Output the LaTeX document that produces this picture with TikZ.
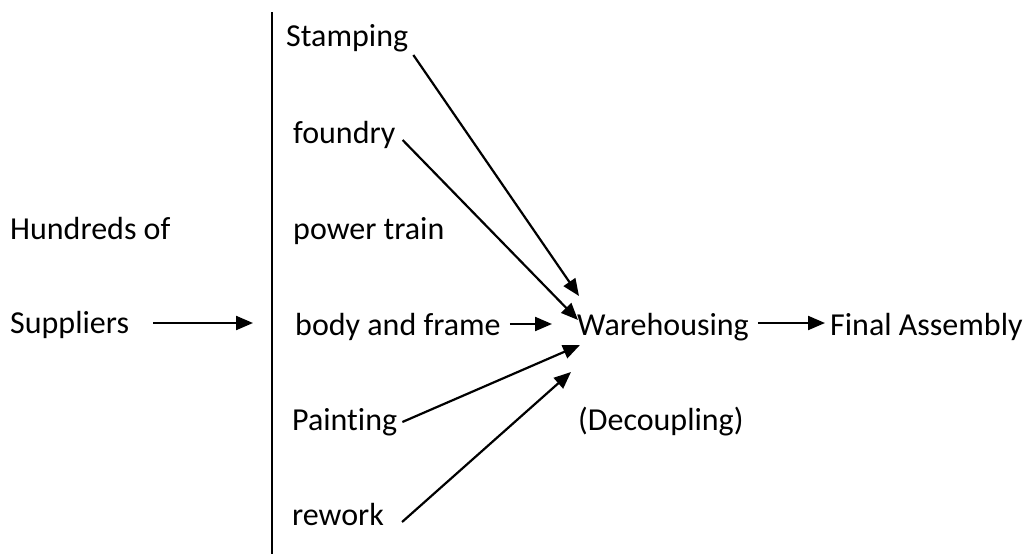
\documentclass[tikz,border=0pt]{standalone}
\usepackage{fontspec}
\setmainfont{Carlito}[Ligatures=NoCommon]
\usetikzlibrary{arrows.meta}
\begin{document}
\begin{tikzpicture}[x=1pt,y=-1pt,
  lbl/.style={anchor=base west,inner sep=0pt,text height=22pt,text depth=7pt,font=\fontsize{32}{38}\selectfont},
  arr/.style={line width=2.2pt,-{Triangle[length=17pt,width=14pt]}},
  barline/.style={line width=1.8pt}]
\useasboundingbox (0,0) rectangle (1024,554);
\node[lbl] (hundreds) at (10,239) {Hundreds of};
\node[lbl] (suppliers) at (10,333) {Suppliers};
\node[lbl] (stamp) at (286,46) {Stamping};
\node[lbl] (foundry) at (293,143) {foundry};
\node[lbl] (power) at (293,239) {power train};
\node[lbl] (body) at (295,335) {body and frame};
\node[lbl] (paint) at (292,430) {Painting};
\node[lbl] (rework) at (292,525) {rework};
\node[lbl] (wh) at (577,335) {Warehousing};
\node[lbl] (decoup) at (578,430) {(Decoupling)};
\node[lbl] (final) at (830,335) {Final Assembly};
\coordinate (bartop) at (272,12);
\coordinate (barbot) at (272,554);
\coordinate (barin) at (253,323);
\draw[barline] (bartop) -- (barbot);
\draw[arr] ([shift={(24,-2.5)}]suppliers.east) -- (barin);
\draw[arr] ([shift={(5,16.5)}]stamp.east) -- ([shift={(2,-31.5)}]wh.west);
\draw[arr] ([shift={(7,4.5)}]foundry.east) -- ([shift={(1,-7.5)}]wh.west);
\draw[arr] ([shift={(9,-3.5)}]body.east) -- ([shift={(-25,-3.5)}]wh.west);
\draw[arr] ([shift={(5,-0.5)}]paint.east) -- ([shift={(3,17.5)}]wh.west);
\draw[arr] ([shift={(18,4.5)}]rework.east) -- ([shift={(-6,44.5)}]wh.west);
\draw[arr] ([shift={(9,-4.5)}]wh.east) -- ([shift={(-5,-4.5)}]final.west);
\end{tikzpicture}
\end{document}
